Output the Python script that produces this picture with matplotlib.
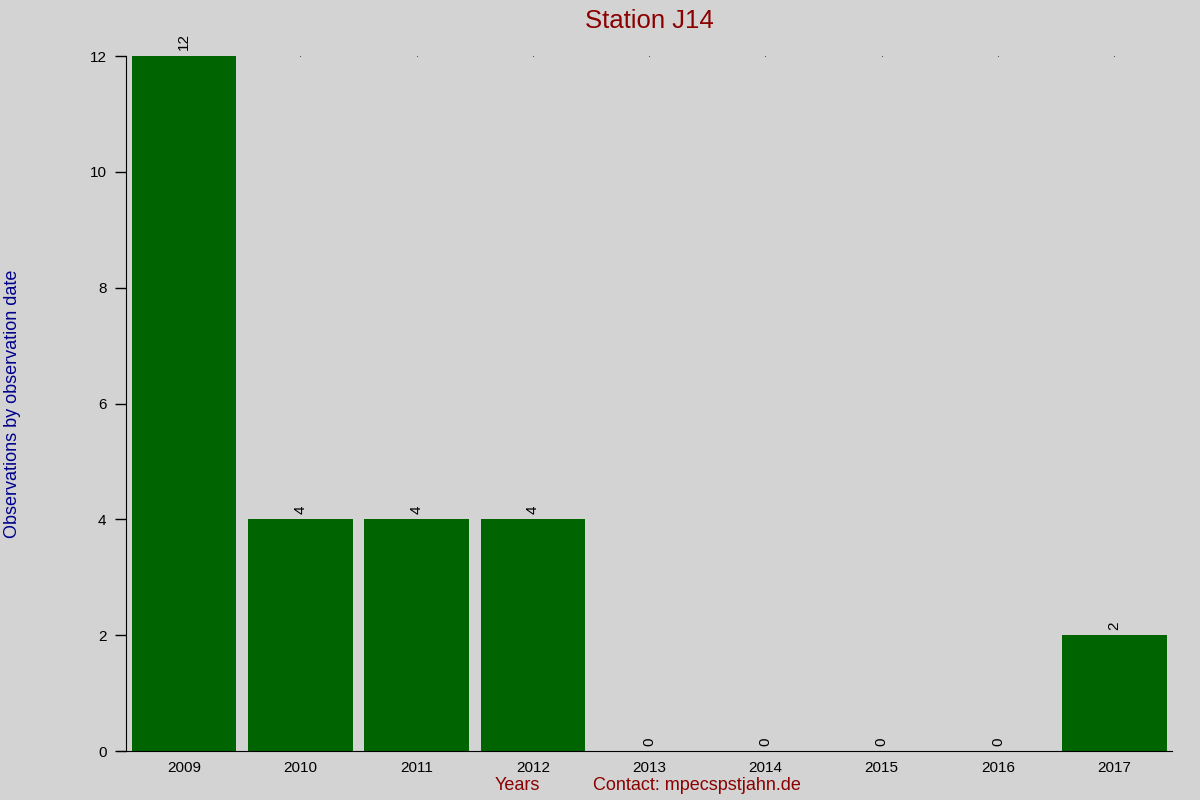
import numpy as np
import matplotlib.pyplot as plt

plt.rcParams['font.family'] = ['Liberation Sans', 'DejaVu Sans']

# Data
years = ['2009', '2010', '2011', '2012', '2013', '2014', '2015', '2016', '2017']
counts = [12, 4, 4, 4, 0, 0, 0, 0, 2]
yticks = [0, 2, 4, 6, 8, 10, 12]

bg = '#d3d3d3'
fig = plt.figure(figsize=(12, 8), dpi=100, facecolor=bg)
ax = fig.add_axes([0.105, 0.061, 0.872, 0.869], facecolor=bg)

x = np.arange(len(years))
bars = ax.bar(x, counts, width=0.9, color='#006400')

# value labels, rotated
for xi, c in zip(x, counts):
    ax.annotate(str(c), (xi, c), xytext=(0, 4), textcoords='offset points',
                rotation=90, ha='center', va='bottom', fontsize=11, color='black')

ax.set_xlim(-0.5, len(years) - 0.5)
ax.set_ylim(0, 12)
ax.set_yticks(yticks)
ax.set_xticks(x)
ax.set_xticklabels(years)

for s in ['top', 'right']:
    ax.spines[s].set_visible(False)
ax.spines['left'].set_color('black')
ax.spines['bottom'].set_color('black')
ax.spines['bottom'].set_bounds(-0.57, len(years) - 0.5)

ax.tick_params(axis='y', length=8, width=1, labelsize=11, pad=6)
ax.tick_params(axis='x', length=0, labelsize=11, pad=7)

# tiny dots along the top level
ax.scatter(x[1:], [12] * (len(x) - 1), s=0.25, color='black', zorder=3, linewidths=0)

ax.set_title('Station J14', color='#8b0000', fontsize=18.5, pad=20)
ax.set_ylabel('Observations by observation date', color='#00008b', fontsize=13)
ax.yaxis.set_label_coords(-0.100, 0.5)
fig.text(0.431, 0.007, 'Years', color='#8b0000', fontsize=13, ha='center', va='bottom')
fig.text(0.581, 0.007, 'Contact: mpecspstjahn.de', color='#8b0000', fontsize=13, ha='center', va='bottom')

fig.savefig('out.png', dpi=100, facecolor=bg)
